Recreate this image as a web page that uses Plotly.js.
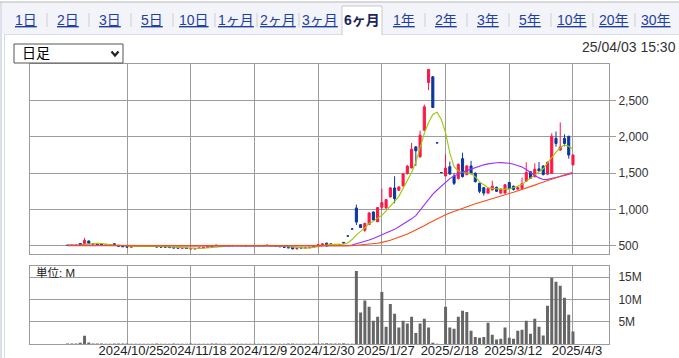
<!DOCTYPE html>
<html><head><meta charset="utf-8">
<script src="https://cdn.plot.ly/plotly-3.0.1.min.js"></script>
<style>html,body{margin:0;padding:0;background:#fff;overflow:hidden}#chart{width:679px;height:358px}</style>
</head><body><div id="chart"></div>
<script>
// ---------- data ----------
const dates = [
'2024/10/4','2024/10/7','2024/10/8','2024/10/9','2024/10/10','2024/10/11','2024/10/15','2024/10/16','2024/10/17','2024/10/18',
'2024/10/21','2024/10/22','2024/10/23','2024/10/24','2024/10/25','2024/10/28','2024/10/29','2024/10/30','2024/10/31','2024/11/1',
'2024/11/5','2024/11/6','2024/11/7','2024/11/8','2024/11/11','2024/11/12','2024/11/13','2024/11/14','2024/11/15','2024/11/18',
'2024/11/19','2024/11/20','2024/11/21','2024/11/22','2024/11/25','2024/11/26','2024/11/27','2024/11/28','2024/11/29','2024/12/2',
'2024/12/3','2024/12/4','2024/12/5','2024/12/6','2024/12/9','2024/12/10','2024/12/11','2024/12/12','2024/12/13','2024/12/16',
'2024/12/17','2024/12/18','2024/12/19','2024/12/20','2024/12/23','2024/12/24','2024/12/25','2024/12/26','2024/12/27','2024/12/30',
'2025/1/6','2025/1/7','2025/1/8','2025/1/9','2025/1/10','2025/1/14','2025/1/15','2025/1/16','2025/1/17','2025/1/20',
'2025/1/21','2025/1/22','2025/1/23','2025/1/24','2025/1/27','2025/1/28','2025/1/29','2025/1/30','2025/1/31','2025/2/3',
'2025/2/4','2025/2/5','2025/2/6','2025/2/7','2025/2/10','2025/2/12','2025/2/13','2025/2/14','2025/2/17','2025/2/18',
'2025/2/19','2025/2/20','2025/2/21','2025/2/25','2025/2/26','2025/2/27','2025/2/28','2025/3/3','2025/3/4','2025/3/5',
'2025/3/6','2025/3/7','2025/3/10','2025/3/11','2025/3/12','2025/3/13','2025/3/14','2025/3/17','2025/3/18','2025/3/19',
'2025/3/21','2025/3/24','2025/3/25','2025/3/26','2025/3/27','2025/3/28','2025/3/31','2025/4/1','2025/4/2','2025/4/3'];

const openP = [
505,504,503,530,528,565,530,528,528,506,
505,527,505,500,492,478,490,492,494,495,
500,492,490,482,480,478,475,466,468,456,
455,460,468,476,484,508,500,502,500,499,
500,501,500,498,500,499,500,508,502,498,
492,486,478,478,455,470,468,470,480,497,
510,535,525,510,515,545,634,731,1020,790,
712,790,965,830,1030,1020,1172,1296,1264,1324,
1495,1573,1863,1725,2093,2751,2830,1919,1509,1462,
1590,1460,1425,1700,1480,1600,1500,1360,1300,1225,
1270,1305,1225,1225,1370,1320,1280,1290,1390,1520,
1450,1560,1600,1485,1500,1980,1820,1980,2010,1615];

const highP = [
508,507,510,532,607,570,535,530,530,510,
508,530,508,502,495,492,495,496,498,498,
502,494,492,486,484,480,477,470,470,462,
460,470,478,486,494,510,504,505,503,502,
503,504,503,502,503,502,503,510,504,500,
494,488,480,480,462,475,472,478,500,515,
530,540,528,515,518,548,634,731,1066,795,
815,965,970,1030,1287,1140,1310,1458,1320,1500,
1615,1918,1870,2088,2447,2935,2840,1919,1509,1760,
1660,1498,1635,1783,1610,1670,1510,1370,1310,1300,
1395,1315,1290,1350,1380,1330,1320,1440,1650,1530,
1635,1655,1605,1660,2050,2075,2200,2035,2010,1760];

const lowP = [
502,500,500,512,520,528,520,515,505,500,
500,510,490,483,478,476,485,488,490,490,
495,480,478,476,470,465,462,460,458,452,
452,458,466,474,482,500,497,498,496,495,
497,498,496,495,497,496,497,500,496,490,
484,476,468,450,452,465,464,468,478,495,
508,490,505,505,500,535,633,730,785,745,
690,785,850,825,990,1010,1165,1085,1255,1320,
1480,1565,1600,1715,2085,2645,2400,1918,1508,1455,
1475,1337,1415,1440,1470,1480,1370,1225,1190,1215,
1260,1240,1215,1220,1280,1260,1270,1285,1380,1420,
1445,1525,1470,1480,1490,1865,1810,1870,1700,1605];

const closeP = [
504,503,506,515,574,530,524,518,506,505,
503,512,492,485,480,490,492,494,495,493,
496,482,480,480,474,468,466,468,462,458,
458,468,476,484,492,502,502,500,499,500,
501,500,498,500,499,500,501,502,498,492,
486,478,470,455,460,468,470,476,498,514,
523,495,508,508,505,538,633,730,825,750,
808,950,855,1025,1094,1135,1296,1149,1310,1490,
1596,1831,1808,2024,2415,2931,2406,1918,1508,1570,
1490,1360,1620,1452,1600,1500,1383,1250,1225,1290,
1320,1250,1280,1340,1290,1275,1300,1355,1510,1430,
1555,1530,1480,1650,2010,1910,1860,1910,1750,1750];

// volume in millions of shares
const volumeM = [
0.12,0.10,0.14,0.30,1.87,0.35,0.14,0.10,0.13,0.08,
0.07,0.11,0.12,0.10,0.13,0.08,0.06,0.05,0.06,0.05,
0.07,0.09,0.08,0.06,0.07,0.09,0.08,0.06,0.07,0.10,
0.08,0.06,0.07,0.08,0.09,0.10,0.05,0.04,0.05,0.04,
0.05,0.04,0.05,0.04,0.05,0.04,0.05,0.08,0.05,0.06,
0.07,0.08,0.09,0.12,0.08,0.06,0.05,0.07,0.10,0.12,
0.14,0.15,0.12,0.10,0.12,0.15,0.05,0.04,16.4,7.1,
9.8,8.4,5.2,6.1,11.7,3.9,9.0,6.8,3.7,5.2,
4.6,6.1,2.5,4.6,5.7,3.7,0.3,0.07,0.02,8.4,
3.7,3.4,6.1,7.5,7.2,3.0,1.6,1.4,1.6,4.8,
2.1,1.0,1.2,3.7,1.4,1.2,3.0,3.2,5.2,2.3,
5.7,3.9,1.9,8.6,14.9,14.0,13.1,10.4,6.6,2.8];

const ma5 = [
504,504,505,508,520,526,530,532,530,520,
512,510,506,500,494,490,488,489,491,493,
494,492,489,486,482,476,473,470,467,464,
462,462,464,469,476,486,492,497,500,501,
500,500,500,500,500,500,500,501,500,498,
496,491,485,478,470,467,466,469,474,484,
500,510,516,518,518,520,540,585,650,695,
745,805,835,880,920,980,1040,1110,1180,1290,
1385,1510,1650,1840,2050,2200,2310,2340,2240,2060,
1780,1590,1530,1510,1505,1495,1450,1380,1340,1300,
1290,1280,1278,1280,1280,1300,1320,1345,1390,1430,
1470,1515,1560,1640,1720,1790,1850,1890,1870,1830];

const ma25 = [
508,508,507,507,507,507,506,506,506,505,
505,505,504,504,503,503,502,502,501,501,
500,500,499,499,498,498,497,497,496,496,
495,495,494,494,494,493,493,493,493,492,
492,492,492,491,491,491,491,490,490,490,
490,490,489,489,489,488,488,488,488,488,
488,488,489,489,490,492,498,510,525,540,
556,578,600,624,648,670,694,725,760,795,
830,870,915,990,1075,1145,1210,1268,1320,1380,
1425,1460,1490,1512,1535,1555,1580,1600,1615,1628,
1638,1643,1645,1642,1636,1624,1608,1585,1550,1505,
1468,1435,1412,1414,1425,1440,1455,1470,1485,1500];

const ma75 = [
500,500,500,500,500,499,499,499,499,499,
499,499,499,498,498,498,498,498,498,498,
497,497,497,497,497,497,496,496,496,496,
496,496,496,496,496,495,495,495,495,495,
495,495,495,495,495,495,495,494,494,494,
494,494,494,494,494,494,494,494,494,494,
494,494,494,494,495,495,497,500,505,510,
514,520,526,534,545,558,575,595,615,638,
662,688,715,745,775,808,840,872,900,925,
950,973,995,1016,1037,1057,1077,1096,1115,1133,
1150,1168,1185,1202,1220,1237,1255,1274,1294,1314,
1335,1357,1378,1399,1420,1440,1460,1478,1495,1512];

const tickDates = ['2024/10/25','2024/11/18','2024/12/9','2024/12/30','2025/1/27','2025/2/18','2025/3/12','2025/4/3'];
const priceTicks = [500, 1000, 1500, 2000, 2500];
const volumeTicks = [5, 10, 15];
const volumeTickText = ['5M', '10M', '15M'];
const tabLabels = ['1日','2日','3日','5日','10日','1ヶ月','2ヶ月','3ヶ月','6ヶ月','1年','2年','3年','5年','10年','20年','30年'];
const activeTab = '6ヶ月';
const periodLabel = '日足';
const timestampText = '25/04/03 15:30';
const volumeUnitText = '単位: M';

// ---------- geometry helpers ----------
const FONT = 'Liberation Sans, Arial, Noto Sans CJK JP, sans-serif';
const W = 679, H = 358, M = {l: 30, r: 70, t: 64, b: 14};
const PW = W - M.l - M.r, PH = H - M.t - M.b;
const px2x = p => (p - M.l) / PW;
const py2y = p => (H - M.b - p) / PH;

const shapes = [];
const annotations = [];
function rectPx(x0, y0, x1, y1, fill, lineColor, lw) {
  shapes.push({type: 'rect', xref: 'paper', yref: 'paper', x0: px2x(x0), x1: px2x(x1), y0: py2y(y1), y1: py2y(y0),
    fillcolor: fill, line: {color: lineColor || 'rgba(0,0,0,0)', width: lw || 0}});
}
function linePx(x0, y0, x1, y1, color, width) {
  shapes.push({type: 'line', xref: 'paper', yref: 'paper', x0: px2x(x0), y0: py2y(y0), x1: px2x(x1), y1: py2y(y1),
    line: {color: color, width: width || 1}});
}
function textPx(x, y, text, size, color, anchor, extra) {
  annotations.push(Object.assign({xref: 'paper', yref: 'paper', x: px2x(x), y: py2y(y), text: text, showarrow: false,
    xanchor: anchor || 'center', yanchor: 'middle', font: {family: FONT, size: size, color: color}}, extra || {}));
}

// tab bar
rectPx(2, 2.5, 679, 34, '#f2f4f9');
linePx(0, 2, 679, 2, '#b4b4b4', 1);
linePx(1, 2, 1, 358, '#b8c2d6', 1);
linePx(4.5, 34, 4.5, 358, '#d3dbe9', 1);
linePx(4, 34.5, 679, 34.5, '#d8deea', 1);
const activeIdx = tabLabels.indexOf(activeTab);
tabLabels.forEach((t, i) => {
  const cx = 26 + 42 * i;
  if (i === activeIdx) {
    rectPx(cx - 20, 6, cx + 20, 35, '#ffffff');
    linePx(cx - 20, 6, cx - 20, 35, '#c9c9c9', 1);
    linePx(cx - 20, 6, cx + 20, 6, '#c9c9c9', 1);
    linePx(cx + 20, 6, cx + 20, 35, '#c9c9c9', 1);
    textPx(cx, 20, '<b>' + t + '</b>', 14, '#1c2458');
  } else {
    textPx(cx, 20, '<u>' + t + '</u>', 14, '#1f3fa3');
  }
  if (i < tabLabels.length - 1 && i !== activeIdx && i !== activeIdx - 1) {
    linePx(47 + 42 * i, 13, 47 + 42 * i, 27, '#cfcfcf', 1);
  }
});

// period dropdown
rectPx(14, 44, 123, 63, '#ffffff', '#555555', 1);
textPx(20, 53.5, periodLabel, 14, '#000000', 'left');
shapes.push({type: 'path', xref: 'paper', yref: 'paper',
  path: 'M' + px2x(111.5) + ',' + py2y(51.5) + ' L' + px2x(115) + ',' + py2y(55.5) + ' L' + px2x(118.5) + ',' + py2y(51.5),
  line: {color: '#222', width: 2.2}});

// timestamp and volume unit
textPx(678, 46.5, timestampText, 14, '#333333', 'right');
textPx(34, 272.5, volumeUnitText, 11.5, '#222222', 'left');

// ---------- traces ----------
const candle = {
  type: 'candlestick', x: dates, open: openP, high: highP, low: lowP, close: closeP,
  xaxis: 'x', yaxis: 'y', whiskerwidth: 0, hoverinfo: 'skip', showlegend: false,
  increasing: {line: {color: '#ff1744', width: 1}, fillcolor: '#ff1744'},
  decreasing: {line: {color: '#0b379f', width: 1}, fillcolor: '#0b379f'}
};
const maTrace = (y, color) => ({type: 'scatter', mode: 'lines', x: dates, y: y, xaxis: 'x', yaxis: 'y',
  line: {color: color, width: 1.1}, hoverinfo: 'skip', showlegend: false});
const volTrace = {type: 'bar', x: dates, y: volumeM, xaxis: 'x', yaxis: 'y2',
  marker: {color: '#666666', line: {width: 0}}, hoverinfo: 'skip', showlegend: false};

const gridC = '#9c9c9c';
const layout = {
  width: W, height: H, margin: M, paper_bgcolor: '#ffffff', plot_bgcolor: '#ffffff',
  showlegend: false, hovermode: false, bargap: 0.3,
  xaxis: {
    type: 'category', categoryorder: 'array', categoryarray: dates, range: [-8.84, 127.48], anchor: 'y2',
    tickmode: 'array', tickvals: tickDates, ticktext: tickDates, ticks: '', tickangle: 0,
    ticklabelshift: 4, ticklabelstandoff: -6,
    showgrid: true, gridcolor: gridC, gridwidth: 1, showline: true, linecolor: gridC, linewidth: 1, mirror: 'all',
    tickfont: {family: FONT, size: 13, color: '#222'}, rangeslider: {visible: false}, fixedrange: true
  },
  yaxis: {
    domain: [py2y(254), 1], anchor: 'x', side: 'right', range: [385, 3006],
    tickmode: 'array', tickvals: priceTicks, tickformat: ',',
    showgrid: true, gridcolor: gridC, gridwidth: 1, zeroline: false,
    showline: true, linecolor: gridC, linewidth: 1, mirror: true,
    ticks: 'outside', ticklen: 6, tickcolor: gridC, tickwidth: 1,
    tickfont: {family: FONT, size: 12, color: '#333'}, fixedrange: true
  },
  yaxis2: {
    domain: [0, py2y(265.7)], anchor: 'x', side: 'right', range: [0, 17.6],
    tickmode: 'array', tickvals: volumeTicks, ticktext: volumeTickText,
    showgrid: true, gridcolor: gridC, gridwidth: 1, zeroline: false,
    showline: true, linecolor: gridC, linewidth: 1, mirror: true,
    ticks: 'outside', ticklen: 6, tickcolor: 'rgba(0,0,0,0)',
    tickfont: {family: FONT, size: 12, color: '#333'}, fixedrange: true
  },
  shapes: shapes,
  annotations: annotations
};

Plotly.newPlot('chart', [candle, maTrace(ma5, '#99cc00'), maTrace(ma25, '#9b30ff'), maTrace(ma75, '#ff4a1a'), volTrace],
  layout, {staticPlot: true, displayModeBar: false});
</script>
</body></html>
